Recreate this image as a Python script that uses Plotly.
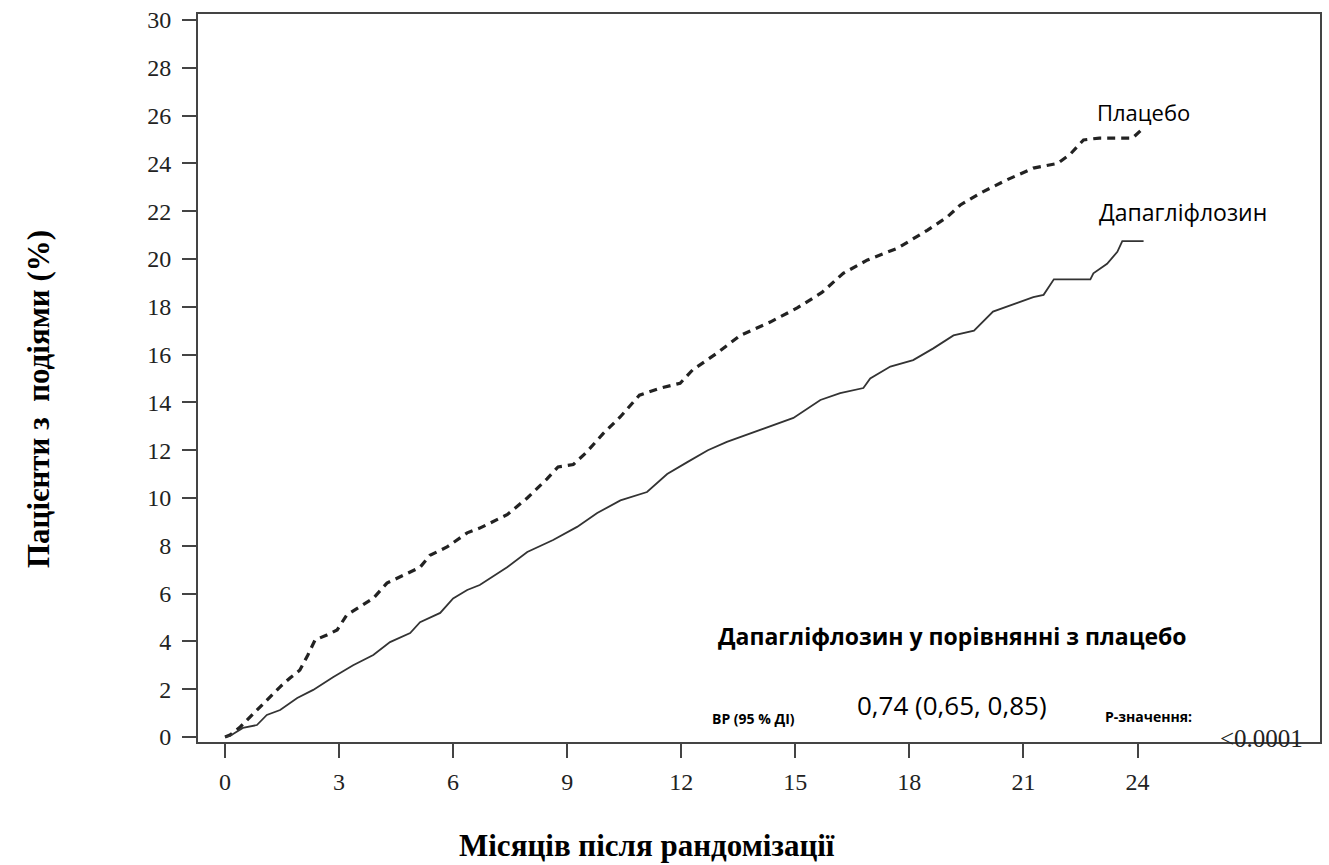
import plotly.graph_objects as go

# Placebo (dashed) cumulative event curve
placebo_x = [0, 0.13, 0.4, 0.66, 0.92, 1.18, 1.45, 1.71, 1.97, 2.18, 2.37, 2.68, 2.95, 3.2, 3.55,
             3.9, 4.26, 4.79, 5.13, 5.39, 5.84, 6.37, 6.7, 7.42,
             7.95, 8.47, 8.76, 9.16, 9.5, 9.95, 10.4, 10.9, 11.45, 11.97, 12.3, 12.95, 13.55,
             14.34, 15.05, 15.7, 16.26, 16.9, 17.7, 18.47, 19.0, 19.34, 19.87, 20.55, 21.26,
             21.9, 22.24, 22.58, 23.0, 23.87, 24.1]
placebo_y = [0, 0.08, 0.42, 0.84, 1.26, 1.67, 2.1, 2.47, 2.8, 3.43, 4.06, 4.27, 4.48, 5.1, 5.44,
             5.8, 6.44, 6.86, 7.1, 7.6, 7.95, 8.54, 8.74, 9.3,
             10.0, 10.8, 11.3, 11.4, 11.9, 12.7, 13.4, 14.3, 14.6, 14.8, 15.36, 16.07, 16.8,
             17.36, 17.95, 18.6, 19.4, 19.96, 20.46, 21.2, 21.76, 22.26, 22.76, 23.3, 23.8,
             24.0, 24.4, 24.98, 25.06, 25.06, 25.4]

# Dapagliflozin (solid) cumulative event curve
dapa_x = [0, 0.13, 0.47, 0.84, 1.1, 1.45, 1.9, 2.32, 2.84, 3.37, 3.9, 4.34, 4.87, 5.13, 5.66,
          6.0, 6.37, 6.7,
          7.42, 7.95, 8.63, 9.26, 9.79, 10.4, 11.1, 11.63, 12.16, 12.7, 13.2, 13.55, 14.26,
          14.95, 15.66, 16.18, 16.79, 16.97, 17.5, 18.1, 18.63, 19.16, 19.7, 20.2, 20.84, 21.26,
          21.53, 21.8, 22.76, 22.84, 23.2, 23.47, 23.6, 24.16]
dapa_y = [0, 0.04, 0.38, 0.5, 0.92, 1.13, 1.63, 1.97, 2.5, 3.0, 3.43, 3.97, 4.35, 4.8, 5.19,
          5.8, 6.15, 6.36,
          7.1, 7.74, 8.24, 8.79, 9.37, 9.9, 10.25, 11.0, 11.5, 12.0, 12.35, 12.55, 12.97,
          13.35, 14.1, 14.39, 14.6, 15.0, 15.5, 15.77, 16.26, 16.8, 17.0, 17.8, 18.16, 18.4,
          18.5, 19.15, 19.15, 19.4, 19.8, 20.3, 20.75, 20.75]

x_ticks = [0, 3, 6, 9, 12, 15, 18, 21, 24]
y_ticks = list(range(0, 31, 2))

fig = go.Figure()
fig.add_trace(go.Scatter(x=placebo_x, y=placebo_y, mode="lines", name="Плацебо",
                         line=dict(color="#222222", width=3.2, dash="8px,6px"),
                         hoverinfo="skip"))
fig.add_trace(go.Scatter(x=dapa_x, y=dapa_y, mode="lines", name="Дапагліфлозин",
                         line=dict(color="#333333", width=1.8), hoverinfo="skip"))

serif = "Liberation Serif, Times New Roman, serif"
sans = "Open Sans, Noto Sans, sans-serif"

W, H = 1329, 865
L, R, T, B = 198, 1320, 14, 742


def px(xp):
    return (xp - L) / (R - L)


def py(yp):
    return (B - yp) / (B - T)


annos = [
    dict(x=24.16, y=26.15, xref="x", yref="y", text="Плацебо",
         font=dict(family=sans, size=22, color="#000")),
    dict(x=25.2, y=21.97, xref="x", yref="y", text="Дапагліфлозин",
         font=dict(family=sans, size=23, color="#000")),
    dict(x=px(952), y=py(636), text="<b>Дапагліфлозин у порівнянні з плацебо</b>",
         font=dict(family=sans, size=23, color="#000")),
    dict(x=px(753), y=py(718), text="<b>ВР (95 % ДІ)</b>",
         font=dict(family=sans, size=14, color="#000")),
    dict(x=px(952), y=py(705), text="0,74 (0,65, 0,85)",
         font=dict(family=sans, size=26, color="#000")),
    dict(x=px(1148), y=py(716), text="<b>Р-значення:</b>",
         font=dict(family=sans, size=14, color="#000")),
    dict(x=px(1261), y=py(738), text="&lt;0.0001",
         font=dict(family=serif, size=25, color="#222")),
    dict(x=px(647), y=py(845), text="<b>Місяців після рандомізації</b>",
         font=dict(family=serif, size=31, color="#000")),
    dict(x=px(38), y=py(399), text="<b>Пацієнти з&nbsp; подіями (%)</b>", textangle=-90,
         font=dict(family=serif, size=31, color="#000")),
]
for a in annos:
    a.setdefault("xref", "paper")
    a.setdefault("yref", "paper")
    a["showarrow"] = False
    a["xanchor"] = "center"
    a["yanchor"] = "middle"

fig.update_layout(
    width=W, height=H,
    margin=dict(l=L, r=W - R, t=T, b=H - B, autoexpand=False),
    paper_bgcolor="white", plot_bgcolor="white",
    showlegend=False,
    hovermode=False,
    annotations=annos,
    xaxis=dict(range=[-0.71, 28.8], tickvals=x_ticks, ticktext=[str(v) for v in x_ticks],
               showgrid=False, zeroline=False, showline=True, linecolor="#444", linewidth=2,
               mirror=True, ticks="outside", ticklen=14, tickwidth=2, tickcolor="#444",
               tickfont=dict(family=serif, size=24, color="#222"), ticklabelstandoff=3),
    yaxis=dict(range=[-0.21, 30.25], tickvals=y_ticks, ticktext=[str(v) for v in y_ticks],
               showgrid=False, zeroline=False, showline=True, linecolor="#444", linewidth=2,
               mirror=True, ticks="outside", ticklen=14, tickwidth=2, tickcolor="#444",
               tickfont=dict(family=serif, size=24, color="#222"), ticklabelstandoff=6),
)

fig.write_html("out.html", config={"displayModeBar": False, "staticPlot": True},
               post_script="document.body.style.margin='0';")
